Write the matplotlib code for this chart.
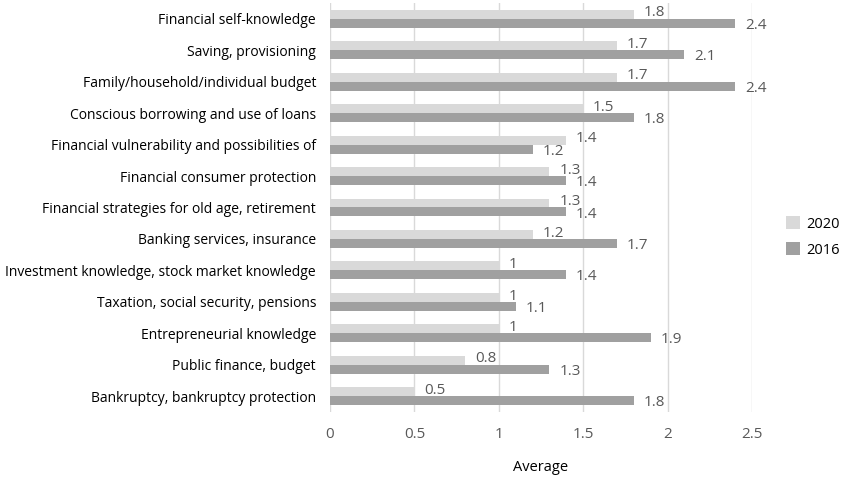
import matplotlib
matplotlib.use("Agg")
import matplotlib.pyplot as plt
import numpy as np

plt.rcParams['font.family'] = ['Open Sans', 'DejaVu Sans']

topics = ['Financial self-knowledge',
          'Saving, provisioning',
          'Family/household/individual budget',
          'Conscious borrowing and use of loans',
          'Financial vulnerability and possibilities of',
          'Financial consumer protection',
          'Financial strategies for old age, retirement',
          'Banking services, insurance',
          'Investment knowledge, stock market knowledge',
          'Taxation, social security, pensions',
          'Entrepreneurial knowledge',
          'Public finance, budget',
          'Bankruptcy, bankruptcy protection']
avg_2020 = [1.8, 1.7, 1.7, 1.5, 1.4, 1.3, 1.3, 1.2, 1, 1, 1, 0.8, 0.5]
avg_2016 = [2.4, 2.1, 2.4, 1.8, 1.2, 1.4, 1.4, 1.7, 1.4, 1.1, 1.9, 1.3, 1.8]
xticks = [0, 0.5, 1, 1.5, 2, 2.5]

c2020 = '#d9d9d9'
c2016 = '#a0a0a0'
txt_grey = '#595959'

fig = plt.figure(figsize=(8.43, 4.8), dpi=100)
ax = fig.add_axes([330/843, 1-412/480, 422/843, 409/480])

n = len(topics)
y = np.arange(n)[::-1]
h = 0.285
b1 = ax.barh(y + h/2, avg_2020, height=h, color=c2020, label='2020', zorder=2)
b2 = ax.barh(y - h/2, avg_2016, height=h, color=c2016, label='2016', zorder=2)

# data labels, Excel style at the outer end
for yi, v in zip(y, avg_2020):
    ax.annotate(f'{v:g}', (v, yi + h/2), xytext=(7, 1), textcoords='offset points',
                ha='left', va='center', fontsize=11, color=txt_grey)
for yi, v in zip(y, avg_2016):
    ax.annotate(f'{v:g}', (v, yi - h/2), xytext=(7, -1.5), textcoords='offset points',
                ha='left', va='center', fontsize=11, color=txt_grey)

ax.set_xlim(0, 2.5)
ax.set_ylim(-0.5, n - 0.5)
ax.set_xticks(xticks)
ax.set_xticklabels([f'{t:g}' for t in xticks], fontsize=11, color=txt_grey)
ax.set_yticks(y)
ax.set_yticklabels(topics, fontsize=10, color='black')
ax.tick_params(axis='both', length=0)
ax.tick_params(axis='x', pad=11)
ax.tick_params(axis='y', pad=10)
ax.grid(axis='x', color='#d9d9d9', linewidth=1, zorder=0)
for s in ax.spines.values():
    s.set_visible(False)
ax.set_xlabel('Average', fontsize=10.5, labelpad=13)

fig.legend(handles=[b1, b2], loc='center left', bbox_to_anchor=(786/843, 1-237/480),
           frameon=False, fontsize=10.5, handlelength=0.95, handleheight=0.95,
           labelspacing=0.75, handletextpad=0.45, borderpad=0, borderaxespad=0)

fig.savefig('out.png', dpi=100)
